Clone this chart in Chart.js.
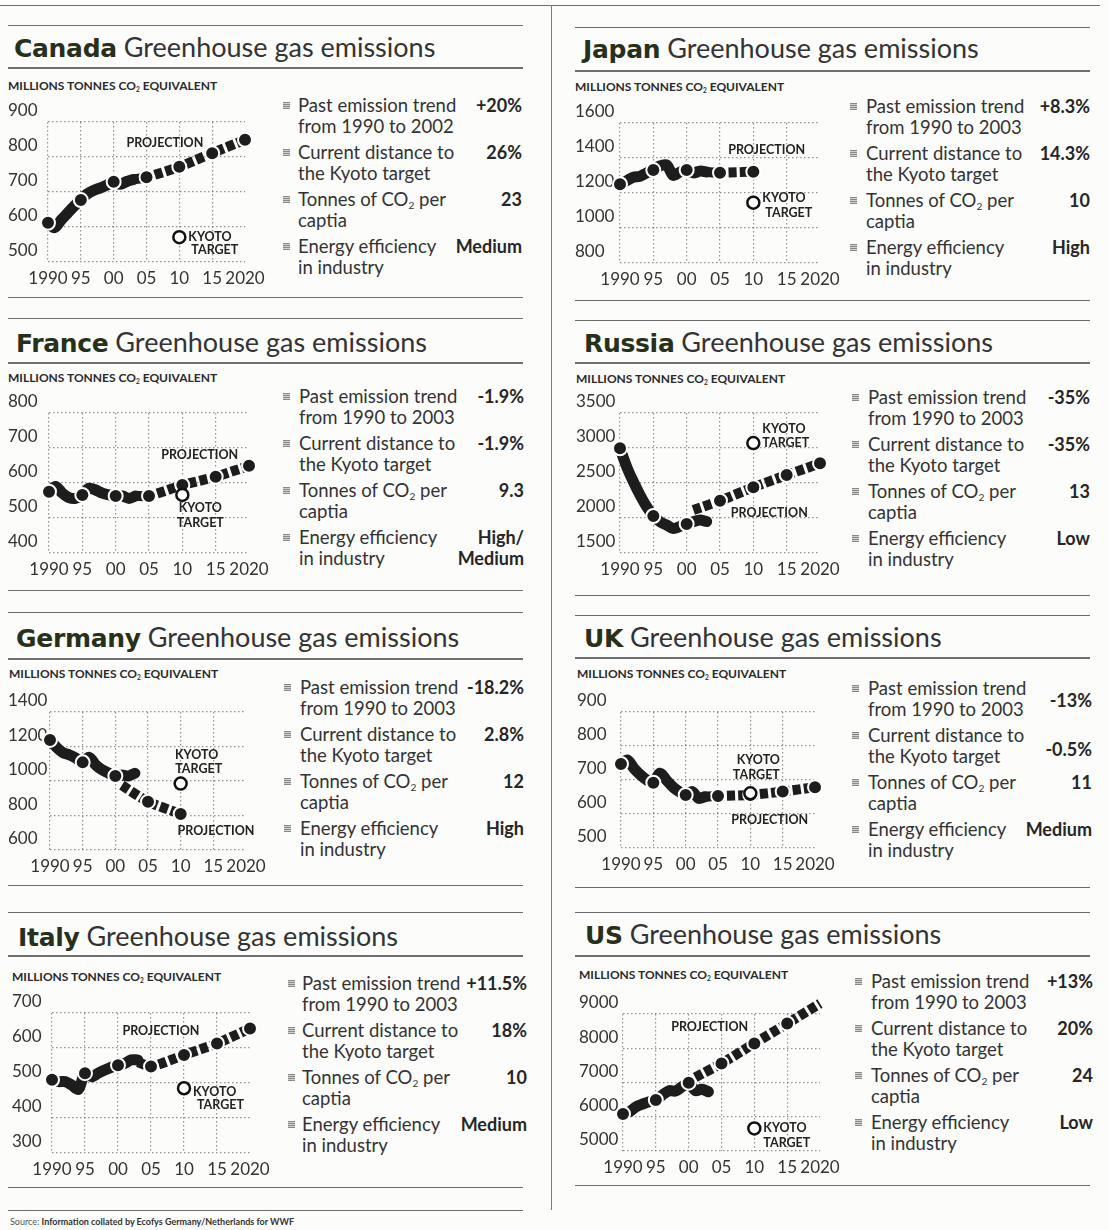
<!DOCTYPE html>
<html>
<head>
<meta charset="utf-8">
<script src="https://cdn.jsdelivr.net/npm/chart.js@4.4.1/dist/chart.umd.min.js"></script>
<style>
  body { margin: 0; background: #fcfcfb; font-family: Lato, "Open Sans", sans-serif; color: #2e2e2e; }
  #page { position: relative; width: 1109px; height: 1230px; overflow: hidden; }
  .hl { position: absolute; height: 0; border-top: 1.5px solid #6e6e6e; }
  .vl { position: absolute; width: 0; border-left: 1.5px solid #7a7a7a; }
  .title { position: absolute; font-size: 27px; line-height: 30px; white-space: nowrap; color: #333; }
  .title b { font-family: "DejaVu Sans", sans-serif; font-size: 25px; font-weight: 700; color: #27301a; letter-spacing: -0.3px; }
  .unit { position: absolute; font-size: 12px; font-weight: 700; line-height: 14px; white-space: nowrap; color: #2a2a2a; }
  .st { position: absolute; font-size: 18.5px; line-height: 21px; white-space: nowrap; color: #333; }
  .val { position: absolute; font-size: 18px; line-height: 21px; font-weight: 700; text-align: right; white-space: nowrap; color: #262626; }
  .bul { position: absolute; width: 7px; height: 7px; background: repeating-linear-gradient(#8a8a8a 0 1px, #cfcfcf 1px 2px); }
  sub { font-size: 0.55em; vertical-align: -0.25em; line-height: 0; }
  canvas { position: absolute; }
  .src { position: absolute; left: 10px; top: 1216px; font-size: 9px; color: #555; white-space: nowrap; }
  .src b { color: #333; }
</style>
</head>
<body>
<div id="page"></div>
<script>
// x axis
const xTickYears = [1990, 1995, 2000, 2005, 2010, 2015, 2020];
const xTickLabels = ['1990', '95', '00', '05', '10', '15', '2020'];
const histYears = [1990, 1991, 1992, 1993, 1994, 1995, 1996, 1997, 1998, 1999, 2000, 2001, 2002, 2003];
const kyotoYear = 2010;

// Canada
const canadaTicks = [500, 600, 700, 800, 900];
const canadaHist = [612, 598, 620, 640, 660, 677, 695, 705, 712, 720, 729, 722, 730, 736];
const canadaProjYears = [2003, 2005, 2010, 2015, 2020];
const canadaProj = [736, 742, 772, 811, 849];
const canadaKyoto = 571;
const canadaStats = ['+20%', '26%', '23', 'Medium'];

// Japan
const japanTicks = [800, 1000, 1200, 1400, 1600];
const japanHist = [1250, 1270, 1290, 1295, 1315, 1331, 1355, 1360, 1300, 1320, 1331, 1315, 1325, 1320];
const japanProjYears = [2003, 2005, 2010];
const japanProj = [1320, 1316, 1322];
const japanKyoto = 1145;
const japanStats = ['+8.3%', '14.3%', '10', 'High'];

// France
const franceTicks = [400, 500, 600, 700, 800];
const franceHist = [575, 590, 571, 558, 556, 566, 585, 580, 571, 566, 563, 563, 556, 563];
const franceProjYears = [2003, 2005, 2010, 2015, 2020];
const franceProj = [563, 563, 594, 618, 649];
const franceKyoto = 566;
const franceStats = ['-1.9%', '-1.9%', '9.3', 'High/<br>Medium'];

// Russia
const russiaTicks = [1500, 2000, 2500, 3000, 3500];
const russiaHist = [2996, 2733, 2519, 2329, 2162, 2029, 1947, 1900, 1850, 1880, 1914, 1947, 1971, 1950];
const russiaProjYears = [2001, 2005, 2010, 2015, 2020];
const russiaProj = [2114, 2247, 2439, 2614, 2781];
const russiaKyoto = 3070;
const russiaStats = ['-35%', '-35%', '13', 'Low'];

// Germany
const germanyTicks = [600, 800, 1000, 1200, 1400];
const germanyHist = [1238, 1195, 1164, 1151, 1132, 1108, 1137, 1093, 1064, 1045, 1029, 1035, 1029, 1045];
const germanyProjYears = [2001, 2005, 2010];
const germanyProj = [975, 880, 809];
const germanyKyoto = 985;
const germanyStats = ['-18.2%', '2.8%', '12', 'High'];

// UK
const ukTicks = [500, 600, 700, 800, 900];
const ukHist = [747, 759, 734, 715, 700, 692, 720, 700, 680, 666, 656, 666, 646, 651];
const ukProjYears = [2003, 2005, 2010, 2015, 2020];
const ukProj = [651, 653, 656, 666, 679];
const ukKyoto = 661;
const ukStats = ['-13%', '-0.5%', '11', 'Medium'];

// Italy
const italyTicks = [300, 400, 500, 600, 700];
const italyHist = [509, 504, 504, 494, 482, 528, 518, 528, 537, 545, 551, 556, 566, 566];
const italyProjYears = [2003, 2005, 2010, 2015, 2020];
const italyProj = [560, 547, 580, 613, 656];
const italyKyoto = 485;
const italyStats = ['+11.5%', '18%', '10', 'Medium'];

// US
const usTicks = [5000, 6000, 7000, 8000, 9000];
const usHist = [6080, 6148, 6294, 6372, 6440, 6489, 6635, 6761, 6750, 6877, 6994, 6761, 6800, 6730];
const usProjYears = [2001, 2005, 2010, 2015, 2020];
const usProj = [7150, 7557, 8140, 8723, 9306];
const usKyoto = 5660;
const usStats = ['+13%', '20%', '24', 'Low'];

const statLabels = [
  ['Past emission trend', 'from 1990 to '],
  ['Current distance to', 'the Kyoto target'],
  ['Tonnes of CO<sub>2</sub> per', 'captia'],
  ['Energy efficiency', 'in industry']
];

// kyoto label: [dx, dy] of KYOTO, [dx, dy] of TARGET (px from the target circle), text align
const panels = [
  { name: 'Canada', x1: 8, x2: 523, lines: [25, 67, 297], title: [14, 32], unit: [8, 79], plot: [48, 245, 122, 262], labelX: 8,
    stat: [283, 298, 522, 106], period: '2002', ticks: canadaTicks, hist: canadaHist, projYears: canadaProjYears, proj: canadaProj, kyoto: canadaKyoto, stats: canadaStats,
    projLabel: [2007.8, 840], kyotoLabel: [[9, 0], [12, 13], 'left'] },
  { name: 'Japan', x1: 575, x2: 1090, lines: [27, 70, 300], title: [583, 33], unit: [575, 80], plot: [620, 820, 123, 263], labelX: 575,
    stat: [850, 866, 1090, 107], period: '2003', ticks: japanTicks, hist: japanHist, projYears: japanProjYears, proj: japanProj, kyoto: japanKyoto, stats: japanStats,
    projLabel: [2012, 1446], kyotoLabel: [[9, -5], [12, 10], 'left'] },
  { name: 'France', x1: 8, x2: 523, lines: [318, 362, 590], title: [16, 327], unit: [8, 371], plot: [49, 249, 413, 553], labelX: 8,
    stat: [283, 299, 524, 397], period: '2003', ticks: franceTicks, hist: franceHist, projYears: franceProjYears, proj: franceProj, kyoto: franceKyoto, stats: franceStats,
    projLabel: [2012.6, 680], kyotoLabel: [[18, 13], [18, 28], 'center'] },
  { name: 'Russia', x1: 575, x2: 1090, lines: [320, 362, 595], title: [584, 327], unit: [576, 372], plot: [620, 820, 413, 553], labelX: 576,
    stat: [852, 868, 1090, 398], period: '2003', ticks: russiaTicks, hist: russiaHist, projYears: russiaProjYears, proj: russiaProj, kyoto: russiaKyoto, stats: russiaStats,
    projLabel: [2012.4, 2071], kyotoLabel: [[9, -14], [9, 0], 'left'] },
  { name: 'Germany', x1: 8, x2: 523, lines: [612, 658, 885], title: [16, 622], unit: [9, 667], plot: [50, 246, 712, 850], labelX: 8,
    stat: [284, 300, 524, 688], period: '2003', ticks: germanyTicks, hist: germanyHist, projYears: germanyProjYears, proj: germanyProj, kyoto: germanyKyoto, stats: germanyStats,
    projLabel: [2015.4, 710], kyotoLabel: [[16, -29], [18, -15], 'center'] },
  { name: 'UK', x1: 575, x2: 1090, lines: [615, 657, 887], title: [584, 622], unit: [577, 667], plot: [621, 815, 712, 848], labelX: 577,
    stat: [852, 868, 1092, 689], period: '2003', ticks: ukTicks, hist: ukHist, projYears: ukProjYears, proj: ukProj, kyoto: ukKyoto, stats: ukStats, valShift: [12, 14, 0, 0],
    projLabel: [2013, 582], kyotoLabel: [[8, -33], [6, -18], 'center'] },
  { name: 'Italy', x1: 8, x2: 523, lines: [912, 955, 1187, 1210], title: [18, 921], unit: [12, 970], plot: [52, 250, 1013, 1153], labelX: 12,
    stat: [288, 302, 527, 984], period: '2003', ticks: italyTicks, hist: italyHist, projYears: italyProjYears, proj: italyProj, kyoto: italyKyoto, stats: italyStats,
    projLabel: [2006.5, 649], kyotoLabel: [[9, 4], [13, 17], 'left'] },
  { name: 'US', x1: 575, x2: 1090, lines: [912, 955, 1185], title: [585, 919], unit: [579, 968], plot: [623, 820, 1014, 1151], labelX: 579,
    stat: [855, 871, 1093, 982], period: '2003', ticks: usTicks, hist: usHist, projYears: usProjYears, proj: usProj, kyoto: usKyoto, stats: usStats,
    projLabel: [2003.2, 8620], kyotoLabel: [[9, 0], [9, 15], 'left'] }
];

const page = document.getElementById('page');
const FONT = 'Lato, "Open Sans", sans-serif';
const INK = '#1d1d1d';
const GRID = 'rgba(60,60,60,0.55)';

function add(cls, style, html) {
  const d = document.createElement('div');
  d.className = cls;
  Object.assign(d.style, style);
  if (html !== undefined) d.innerHTML = html;
  page.appendChild(d);
  return d;
}

// frame
add('hl', { left: '0px', top: '5px', width: '1100px' });
add('vl', { left: '551px', top: '5px', height: '1205px' });
add('src', {}, 'Source: <b>Information collated by Ecofys Germany/Netherlands for WWF</b>');

// PROJECTION and KYOTO TARGET captions
const notesPlugin = {
  id: 'notes',
  afterDatasetsDraw(chart, args, opts) {
    const { ctx, scales: { x, y } } = chart;
    ctx.save();
    ctx.font = 'bold 12.5px ' + FONT;
    ctx.fillStyle = '#222';
    ctx.textBaseline = 'middle';
    ctx.textAlign = 'center';
    ctx.fillText('PROJECTION', x.getPixelForValue(opts.proj[0]), y.getPixelForValue(opts.proj[1]));
    const kx = x.getPixelForValue(kyotoYear), ky = y.getPixelForValue(opts.kyoto);
    const [k, t, align] = opts.kyotoLabel;
    ctx.textAlign = align;
    ctx.fillText('KYOTO', kx + k[0], ky + k[1]);
    ctx.fillText('TARGET', kx + t[0], ky + t[1]);
    ctx.restore();
  }
};

const isFive = v => v % 5 === 0;

panels.forEach(p => {
  p.lines.forEach((ly, i) => add('hl', { left: p.x1 + 'px', top: ly + 'px', width: (p.x2 - p.x1) + 'px', borderTopWidth: i === 1 ? '2px' : '1.5px' }));
  add('title', { left: p.title[0] + 'px', top: p.title[1] + 'px' }, '<b>' + p.name + '</b> Greenhouse gas emissions');
  add('unit', { left: p.unit[0] + 'px', top: p.unit[1] + 'px' }, 'MILLIONS TONNES CO<sub>2</sub> EQUIVALENT');

  const [bx, tx, vr, y0] = p.stat;
  statLabels.forEach((lab, i) => {
    const cy = y0 + i * 47;
    const second = i === 0 ? lab[1] + p.period : lab[1];
    add('bul', { left: bx + 'px', top: (cy - 4) + 'px' });
    add('st', { left: tx + 'px', top: (cy - 11) + 'px' }, lab[0] + '<br>' + second);
    const sh = p.valShift ? p.valShift[i] : 0;
    add('val', { right: (1109 - vr) + 'px', top: (cy - 11 + sh) + 'px' }, p.stats[i]);
  });

  const [pl, pr, pt, pb] = p.plot;
  const cv = document.createElement('canvas');
  const padTop = 25, axisH = 32, padRight = 26;
  cv.width = pr - p.labelX + padRight;
  cv.height = pb - pt + padTop + axisH;
  cv.style.left = p.labelX + 'px';
  cv.style.top = (pt - padTop) + 'px';
  page.appendChild(cv);

  const histPts = histYears.map((x, i) => ({ x, y: p.hist[i] }));
  const projPts = p.projYears.map((x, i) => ({ x, y: p.proj[i] }));
  const marker = ctx => (ctx.raw && isFive(ctx.raw.x)) ? 7 : 0;

  new Chart(cv, {
    type: 'line',
    data: {
      datasets: [
        { data: [{ x: kyotoYear, y: p.kyoto }], showLine: false, clip: false,
          pointRadius: 6, pointBackgroundColor: '#fff', pointBorderColor: '#111', pointBorderWidth: 2.5 },
        { data: histPts, borderColor: INK, borderWidth: 11, tension: 0.3, clip: false,
          borderCapStyle: 'round', borderJoinStyle: 'round',
          pointRadius: marker, pointBackgroundColor: INK, pointBorderColor: '#fff', pointBorderWidth: 2 },
        { data: projPts, borderColor: INK, borderWidth: 10, borderDash: [8, 3], tension: 0.2, clip: false,
          pointRadius: marker, pointBackgroundColor: INK, pointBorderColor: '#fff', pointBorderWidth: 2 }
      ]
    },
    options: {
      responsive: false,
      animation: false,
      events: [],
      layout: { padding: { top: padTop, right: padRight, left: 0, bottom: 0 } },
      plugins: { legend: { display: false }, tooltip: { enabled: false },
                 notes: { proj: p.projLabel, kyoto: p.kyoto, kyotoLabel: p.kyotoLabel } },
      scales: {
        x: {
          type: 'linear', min: 1990, max: 2020,
          afterBuildTicks: s => { s.ticks = xTickYears.map(v => ({ value: v })); },
          afterFit: s => { s.height = axisH; },
          ticks: { autoSkip: false, maxRotation: 0, padding: 6, color: '#333', font: { family: FONT, size: 17 },
                   callback: v => xTickLabels[xTickYears.indexOf(v)] },
          grid: { drawTicks: false, lineWidth: 1.2, color: c => (c.tick && c.tick.value === 2020) ? 'rgba(0,0,0,0)' : GRID },
          border: { display: false, dash: [1.5, 2.5] }
        },
        y: {
          min: p.ticks[0], max: p.ticks[p.ticks.length - 1],
          afterBuildTicks: s => { s.ticks = p.ticks.map(v => ({ value: v })); },
          afterFit: s => { s.width = pl - p.labelX; },
          ticks: { crossAlign: 'far', labelOffset: -11, padding: 0, color: '#333', font: { family: FONT, size: 17 },
                   callback: v => String(v) },
          grid: { drawTicks: false, lineWidth: 1.2, color: GRID },
          border: { display: false, dash: [1.5, 2.5] }
        }
      }
    },
    plugins: [notesPlugin]
  });
});
</script>
</body>
</html>
